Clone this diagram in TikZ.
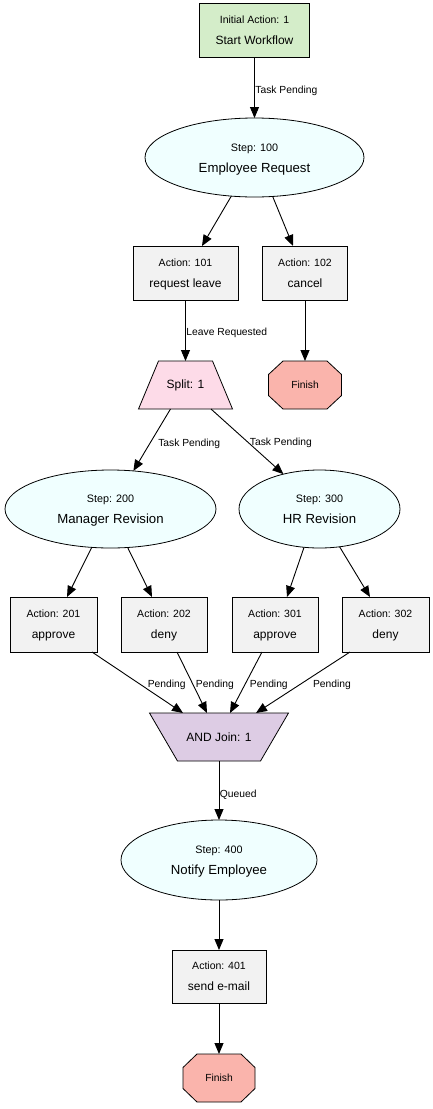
\documentclass[tikz,border=0pt]{standalone}
\usepackage{fontspec}
\setmainfont{Liberation Sans}
\usetikzlibrary{arrows.meta,backgrounds,shapes.geometric}
\definecolor{startc}{RGB}{212,237,201}
\definecolor{stepc}{RGB}{240,255,255}
\definecolor{actc}{RGB}{242,242,242}
\definecolor{splitc}{RGB}{253,219,232}
\definecolor{finc}{RGB}{250,180,172}
\definecolor{joinc}{RGB}{221,204,228}
\newcommand{\twol}[2]{{\fontsize{10.5}{21}\selectfont\rule{0pt}{10.5pt}#1}\\{\fontsize{12}{21}\selectfont #2\rule[-3pt]{0pt}{3pt}}}
\newcommand{\twoe}[2]{{\fontsize{10.8}{21}\selectfont\rule{0pt}{11pt}#1}\\{\fontsize{13.2}{21}\selectfont #2\rule[-3pt]{0pt}{3pt}}}
\begin{document}
\begin{tikzpicture}[x=1pt,y=-1pt,
  base/.style={inner sep=0pt, outer sep=0pt, align=center, font=\fontsize{12}{21}\selectfont},
  actbox/.style={base, rectangle, draw, line width=0.8pt, fill=actc},
  stepell/.style={base, ellipse, draw, line width=0.8pt, fill=stepc},
  plain/.style={base, rectangle},
  shapeline/.style={draw=black, line width=0.8pt},
  edge/.style={draw, line width=0.9pt, -{Triangle[length=11pt,width=9pt]}},
  lbl/.style={font=\fontsize{10.3}{12}\selectfont, inner sep=0.5pt, anchor=west, yshift=-2pt}
]
\useasboundingbox (0,0) rectangle (433,1109);

\node[actbox, fill=startc, minimum width=110pt, minimum height=54pt] (start) at (254.5,30) {\twol{Initial Action: 1}{Start Workflow}};
\node[stepell, minimum width=219pt, minimum height=79pt] (e100) at (254.5,157.5) {\twoe{Step: 100}{Employee Request}};
\node[actbox, minimum width=105pt, minimum height=54pt] (a101) at (185.5,273) {\twol{Action: 101}{request leave}};
\node[actbox, minimum width=85pt, minimum height=54pt] (a102) at (305,273) {\twol{Action: 102}{cancel}};
\node[plain, minimum width=94pt, minimum height=48pt] (split) at (185.5,385) {Split: 1};
\node[plain, minimum width=73pt, minimum height=48pt, font=\fontsize{10.3}{12}\selectfont] (fin1) at (305,385) {Finish};
\node[stepell, minimum width=211pt, minimum height=78pt] (e200) at (110.5,509) {\twoe{Step: 200}{Manager Revision}};
\node[stepell, minimum width=161pt, minimum height=78pt] (e300) at (319.5,509) {\twoe{Step: 300}{HR Revision}};
\node[actbox, minimum width=87pt, minimum height=55pt] (a201) at (53.5,624.5) {\twol{Action: 201}{approve}};
\node[actbox, minimum width=86pt, minimum height=55pt] (a202) at (164,624.5) {\twol{Action: 202}{deny}};
\node[actbox, minimum width=86pt, minimum height=55pt] (a301) at (275,624.5) {\twol{Action: 301}{approve}};
\node[actbox, minimum width=87pt, minimum height=55pt] (a302) at (385.5,624.5) {\twol{Action: 302}{deny}};
\node[plain, minimum width=139pt, minimum height=48pt] (join) at (219,737) {AND Join: 1};
\node[stepell, minimum width=196pt, minimum height=80pt] (e400) at (219,860) {\twoe{Step: 400}{Notify Employee}};
\node[actbox, minimum width=94pt, minimum height=53pt] (a401) at (219,976.5) {\twol{Action: 401}{send e-mail}};
\node[plain, minimum width=72pt, minimum height=48pt, font=\fontsize{10.3}{12}\selectfont] (fin2) at (219,1078) {Finish};

\begin{scope}[on background layer]
\fill[white] (0,0) rectangle (433,1109);
\filldraw[shapeline, fill=splitc] ([xshift=-27pt]split.north) -- ([xshift=27pt]split.north) -- (split.south east) -- (split.south west) -- cycle;
\filldraw[shapeline, fill=joinc] (join.north west) -- (join.north east) -- ([xshift=41.5pt]join.south) -- ([xshift=-41.5pt]join.south) -- cycle;
\foreach \f in {fin1,fin2} {
\filldraw[shapeline, fill=finc] ([xshift=-22pt]\f.north) -- ([xshift=22pt]\f.north) -- ([yshift=10.5pt]\f.east) -- ([yshift=-10.5pt]\f.east) -- ([xshift=22pt]\f.south) -- ([xshift=-22pt]\f.south) -- ([yshift=-10.5pt]\f.west) -- ([yshift=10.5pt]\f.west) -- cycle;
}
\end{scope}

\draw[edge] (start) -- node[lbl, pos=.52]{Task Pending} (e100);
\draw[edge] (e100.239) -- ([xshift=16.5pt]a101.north);
\draw[edge] (e100.295) -- ([xshift=-12pt]a102.north);
\draw[edge] (a101) -- node[lbl, pos=.51]{Leave Requested} (split);
\draw[edge] (a102) -- (fin1);
\draw[edge] ([xshift=-15pt]split.south) -- node[lbl, pos=.53, xshift=6.5pt]{Task Pending} (e200.59.4);
\draw[edge] ([xshift=25.5pt]split.south) -- node[lbl, pos=.49, xshift=2.5pt]{Task Pending} (e300.136.3);
\draw[edge] (e200.244.6) -- ([xshift=13.5pt]a201.north);
\draw[edge] (e200.294.2) -- ([xshift=-12pt]a202.north);
\draw[edge] (e300.248.3) -- ([xshift=12pt]a301.north);
\draw[edge] (e300.298.9) -- ([xshift=-15.5pt]a302.north);
\draw[edge] ([xshift=38.5pt]a201.south) -- node[lbl, pos=.51, xshift=8.5pt]{Pending} ([xshift=-36pt]join.north);
\draw[edge] ([xshift=13pt]a202.south) -- node[lbl, pos=.51, xshift=2.7pt]{Pending} ([xshift=-12pt]join.north);
\draw[edge] ([xshift=-13pt]a301.south) -- node[lbl, pos=.51, xshift=3.3pt]{Pending} ([xshift=11pt]join.north);
\draw[edge] ([xshift=-35.5pt]a302.south) -- node[lbl, pos=.51, xshift=10pt]{Pending} ([xshift=37pt]join.north);
\draw[edge] (join) -- node[lbl, pos=.54]{Queued} (e400);
\draw[edge] (e400) -- (a401);
\draw[edge] (a401) -- (fin2);
\end{tikzpicture}
\end{document}
